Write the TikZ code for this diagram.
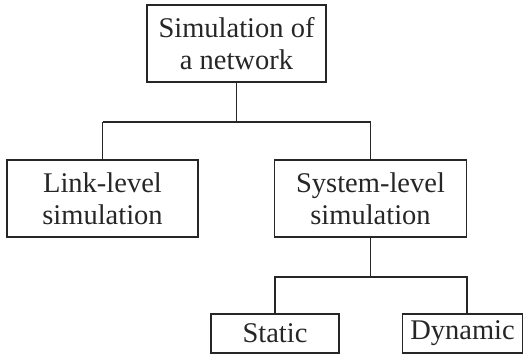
\documentclass[tikz,border=0pt]{standalone}
\usepackage{fontspec}
\setmainfont{Liberation Serif}
\begin{document}
\begin{tikzpicture}[x=1pt,y=-1pt,
  box/.style={draw=black!85,line width=1.1pt,align=center,inner sep=0pt,text=black!85,
    font=\fontsize{28.5}{32}\selectfont},
  link/.style={draw=black!85,line width=1.3pt}]
\useasboundingbox (0,0) rectangle (527,356);
\node[box,minimum width=179pt,minimum height=77pt] (top) at (236.5,43.5) {Simulation of\\a network};
\node[box,minimum width=191pt,minimum height=77pt] (ll) at (102.5,198.5) {Link-level\\simulation};
\node[box,minimum width=192pt,minimum height=77pt] (sl) at (370.5,198.5) {System-level\\simulation};
\node[box,minimum width=128pt,minimum height=39pt] (st) at (275,333.5) {Static};
\node[box,minimum width=120pt,minimum height=39pt] (dy) at (462.5,333.5) {Dynamic};
\coordinate (j1) at (236.5,122);
\coordinate (j2) at (370.5,277);
\draw[link] (top.south) -- (j1);
\draw[link] (j1 -| ll.north) -- (ll.north);
\draw[link] (ll.north |- j1) -- (sl.north |- j1) -- (sl.north);
\draw[link] (sl.south) -- (j2);
\draw[link] (st.north) -- (st.north |- j2) -- (j2 -| sl.east) -- (dy.north -| sl.east);
\end{tikzpicture}
\end{document}
